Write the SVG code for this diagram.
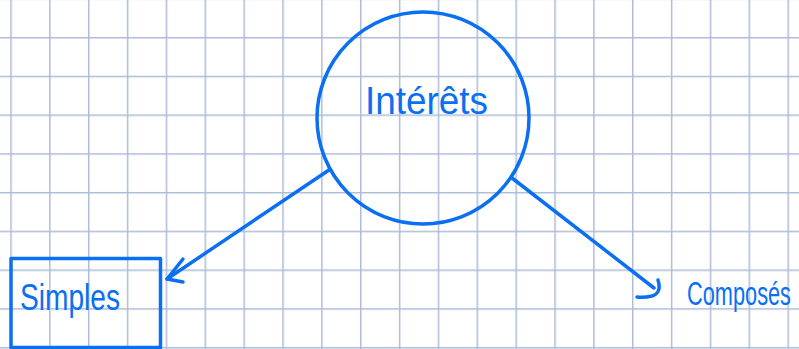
<svg xmlns="http://www.w3.org/2000/svg" width="799" height="349" viewBox="0 0 799 349">
<defs>
<style>
.ink{fill:none;stroke:#0b6ff2;stroke-width:3.5;stroke-linecap:round;stroke-linejoin:round}
.lbl{fill:#0b6ff2;font-family:"Liberation Sans",Arial,sans-serif}
</style>
<pattern id="gp" x="10.25" y="-1.8" width="38.86" height="38.75" patternUnits="userSpaceOnUse">
<path d="M0.75 0V38.75M0 0.75H38.86" stroke="#adbcd8" stroke-width="1.5" fill="none"/>
</pattern>
</defs>
<rect width="799" height="349" fill="#ffffff"/>
<rect width="799" height="349" fill="url(#gp)"/>
<g id="connectors">
<path class="ink" d="M329 170L167 279"/>
<path class="ink" d="M183 259L167 279L183 282"/>
<path class="ink" d="M512 178L654 288"/>
<path class="ink" d="M658 280Q662 293 652 296Q644 298 637 297"/>
</g>
<g id="node-interets">
<circle class="ink" cx="423" cy="118" r="106"/>
<text class="lbl" x="365" y="114" font-size="38" textLength="123" lengthAdjust="spacingAndGlyphs">Intérêts</text>
</g>
<g id="node-simples">
<rect class="ink" x="11" y="258.5" width="149.5" height="89"/>
<text class="lbl" x="20" y="310" font-size="36" textLength="100" lengthAdjust="spacingAndGlyphs">Simples</text>
</g>
<g id="node-composes">
<text class="lbl" x="687" y="305" font-size="34" textLength="104" lengthAdjust="spacingAndGlyphs">Composés</text>
</g>
</svg>
